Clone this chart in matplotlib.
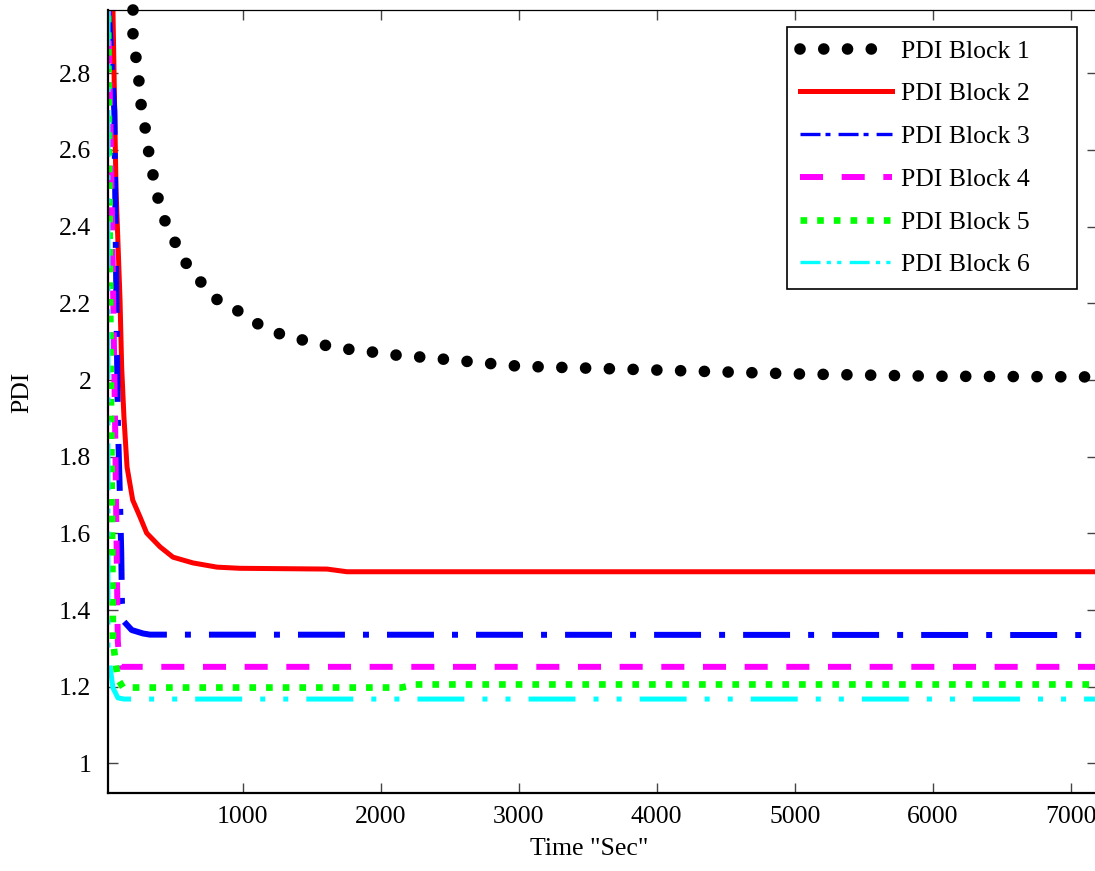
import matplotlib
matplotlib.use('Agg')
import matplotlib.pyplot as plt
from matplotlib.ticker import FuncFormatter
from matplotlib.legend_handler import HandlerLine2D

plt.rcParams['font.family'] = ['Liberation Serif', 'DejaVu Serif']
plt.rcParams['lines.scale_dashes'] = False

# PDI Block 1 (black dots)
t1 = [205, 205, 227, 248, 263, 292, 321, 350, 386, 437, 509, 589, 698, 814, 967,
      1112, 1271, 1438, 1605, 1772, 1938, 2112, 2286, 3000, 4000, 5000, 6000, 7190]
pdi1 = [2.965, 2.90, 2.84, 2.78, 2.72, 2.66, 2.59, 2.535, 2.475, 2.415, 2.36, 2.305,
        2.255, 2.21, 2.18, 2.146, 2.12, 2.104, 2.09, 2.08, 2.073, 2.065, 2.06,
        2.036, 2.026, 2.016, 2.01, 2.008]
# PDI Block 2 (red)
t2 = [50, 60, 82, 111, 123, 140, 162, 203, 256, 304, 401, 495, 640, 814, 980,
      1611, 1756, 7200]
pdi2 = [3.2, 2.965, 2.5, 2.21, 2.034, 1.90, 1.773, 1.687, 1.643, 1.601, 1.565,
        1.538, 1.523, 1.512, 1.509, 1.507, 1.50, 1.50]
# PDI Block 3 (blue)
t3 = [24, 70, 85, 95, 110, 120, 125, 140, 196, 278, 328, 7200]
pdi3 = [3.0, 2.7, 2.2, 1.9, 1.7, 1.55, 1.42, 1.37, 1.348, 1.339, 1.336, 1.335]
# PDI Block 4 (magenta)
t4 = [24, 50, 75, 95, 105, 120, 7200]
pdi4 = [3.0, 2.5, 1.9, 1.32, 1.27, 1.252, 1.252]
# PDI Block 5 (green)
t5 = [24, 40, 60, 80, 96, 133, 2150, 2250, 7200]
pdi5 = [3.0, 2.2, 1.32, 1.26, 1.22, 1.198, 1.198, 1.206, 1.206]
# PDI Block 6 (cyan)
t6 = [24, 24, 40, 60, 96, 140, 7200]
pdi6 = [3.0, 1.30, 1.25, 1.197, 1.171, 1.168, 1.168]

labels = ['PDI Block 1', 'PDI Block 2', 'PDI Block 3',
          'PDI Block 4', 'PDI Block 5', 'PDI Block 6']

fig = plt.figure(figsize=(10.95, 8.71), dpi=100)
ax = fig.add_axes([108 / 1095, 1 - 793 / 871, 989 / 1095, 783 / 871])

l1, = ax.plot(t1, pdi1, color='black', lw=8.4, linestyle=(0, (0.01, 17.1)),
              dash_capstyle='round', label=labels[0], clip_on=False, zorder=3)
l2, = ax.plot(t2, pdi2, color='red', lw=3.6, label=labels[1])
l3, = ax.plot(t3, pdi3, color='blue', lw=4.3,
              linestyle=(0, (33.8, 13, 4.3, 13)), label=labels[2])
l4, = ax.plot(t4, pdi4, color='magenta', lw=4.3,
              linestyle=(0, (16.6, 13.4)), label=labels[3])
l5, = ax.plot(t5, pdi5, color='lime', lw=4.8,
              linestyle=(0, (4.8, 7.2)), label=labels[4])
l6, = ax.plot(t6, pdi6, color='cyan', lw=3.6,
              linestyle=(0, (33.8, 13, 3.6, 13, 3.6, 13)), label=labels[5])

ax.set_xlim(24, 7190)
ax.set_ylim(0.923, 2.965)
ax.set_xticks([1000, 2000, 3000, 4000, 5000, 6000, 7000])
ax.set_yticks([1, 1.2, 1.4, 1.6, 1.8, 2, 2.2, 2.4, 2.6, 2.8])
ax.yaxis.set_major_formatter(FuncFormatter(lambda v, p: '%g' % round(v, 2)))

ax.tick_params(direction='in', length=7.2, width=1, color='#444444',
               top=True, right=True, labelsize=18.5)
ax.tick_params(axis='y', pad=12)
ax.tick_params(axis='x', pad=9)
for s in ['left', 'bottom']:
    ax.spines[s].set_linewidth(1.6)
ax.spines['top'].set_linewidth(0.9)
ax.spines['right'].set_linewidth(0.9)

ax.set_xlabel('Time "Sec"', fontsize=18.5)
ax.set_ylabel('PDI', fontsize=18.5)
ax.xaxis.set_label_coords(0.487, -0.057)
ax.yaxis.set_label_coords(-0.076, 0.512)

# thinner dash-dot handles in the legend, like the original
thin = {'PDI Block 3': (0, (14.4, 3.6, 3.6, 5.8)),
        'PDI Block 6': (0, (14.4, 4.5, 3, 4.5, 3, 6))}


def legend_update(legline, orig):
    legline.update_from(orig)
    if orig.get_label() in thin:
        legline.set_linewidth(2.4)
        legline.set_linestyle(thin[orig.get_label()])


hmap = {ln: HandlerLine2D(update_func=legend_update) for ln in [l3, l6]}

leg = ax.legend(loc='upper left',
                bbox_to_anchor=(787 / 1095, 1 - 26.7 / 871, 290 / 1095, 0),
                bbox_transform=fig.transFigure, mode='expand', borderaxespad=0,
                fontsize=18.5, handlelength=3.6, handletextpad=0.35,
                labelspacing=0.77, fancybox=False, framealpha=1,
                edgecolor='black', borderpad=0.5, handler_map=hmap)
leg.get_frame().set_linewidth(1.2)
leg.set_zorder(5)

plt.savefig('out.png', dpi=100)
